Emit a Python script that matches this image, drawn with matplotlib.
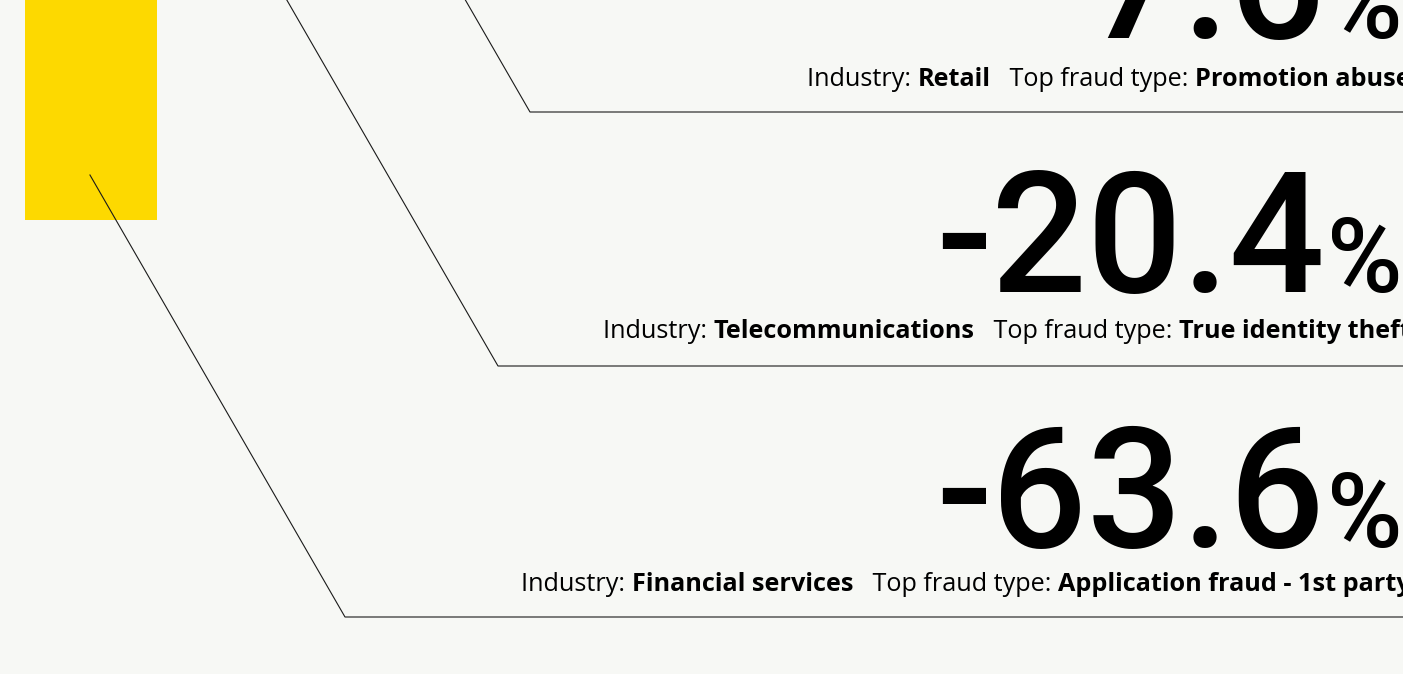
import matplotlib.pyplot as plt
from matplotlib.patches import Rectangle

# values shown as large figures, one row per industry
CHANGE_PCT = [7.6, -20.4, -63.6]
INDUSTRIES = ["Retail", "Telecommunications", "Financial services"]
FRAUD_TYPES = ["Promotion abuse", "True identity theft", "Application fraud - 1st party"]

BG = "#f7f8f5"
YELLOW = "#fdd900"
W, H = 1403, 674

# layout (pixel space, y down)
num_base = [38, 292, 547]
sub_base = [86, 338, 591]
line_y = [112, 366, 617]
corner_x = [530, 498, 345]
start_y = [-20, -20, 175]
SLOPE = 0.577  # dx per dy of the diagonal leader lines
RIGHT = 1411

fig = plt.figure(figsize=(W / 100, H / 100), dpi=100, facecolor=BG)
ax = fig.add_axes([0, 0, 1, 1])
ax.set_xlim(0, W); ax.set_ylim(H, 0); ax.axis("off")
ax.set_facecolor(BG)

ax.add_patch(Rectangle((25, 0), 132, 220, color=YELLOW, lw=0, zorder=1))

for i, val in enumerate(CHANGE_PCT):
    y0, yc, xc = start_y[i], line_y[i], corner_x[i]
    x0 = xc - (yc - y0) * SLOPE
    ax.plot([x0, xc, W + 5], [y0, yc, yc], color="#1a1a1a", lw=0.8, zorder=2,
            solid_joinstyle="miter")

    # big number + smaller percent sign, right aligned
    pct = ax.text(1402, num_base[i], "%", fontsize=74, family="Roboto",
                  fontweight="medium", ha="right", va="baseline", color="black", zorder=3)
    ax.annotate(f"{val:.1f}", xy=(-0.02, num_base[i]), xycoords=(pct, "data"),
                fontsize=121, family="Roboto", fontweight="medium", ha="right",
                va="baseline", color="black", zorder=3)

    # caption line, built right-to-left so it runs off the right edge
    pieces = [("Industry: ", "normal"), (INDUSTRIES[i], "bold"),
              ("   Top fraud type: ", "normal"), (FRAUD_TYPES[i], "bold")]
    prev = None
    for txt, wt in reversed(pieces):
        kw = dict(fontsize=18.2, family="Open Sans", fontweight=wt, ha="right",
                  va="baseline", color="black", zorder=3)
        if prev is None:
            prev = ax.text(RIGHT, sub_base[i], txt, **kw)
        else:
            prev = ax.annotate(txt, xy=(0, sub_base[i]), xycoords=(prev, "data"), **kw)

fig.savefig("out.png", dpi=100, facecolor=BG)
